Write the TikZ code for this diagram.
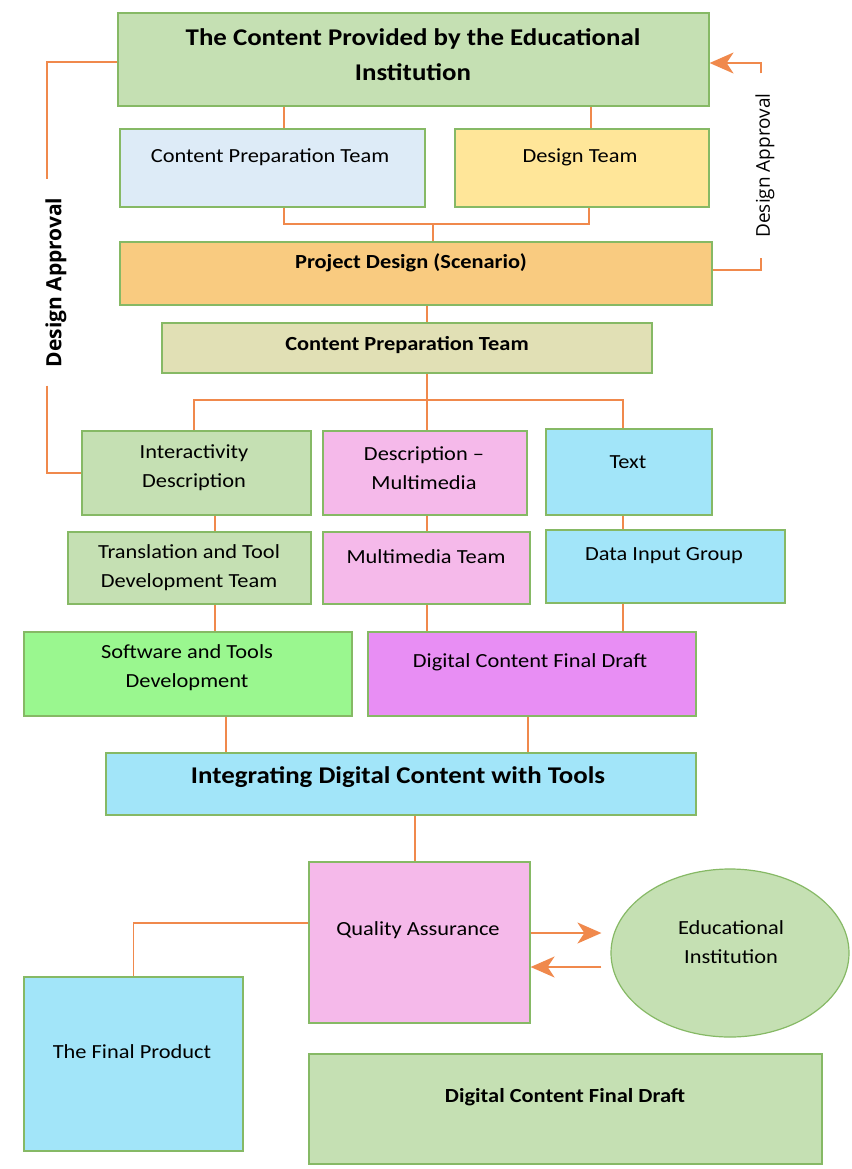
\documentclass[tikz,border=0pt]{standalone}
\usepackage{fontspec}
\setmainfont{Carlito}
\newfontfamily\labfont{Open Sans}
\usetikzlibrary{fit,arrows.meta,shapes.geometric}
\definecolor{cTop}{HTML}{C5E0B3}
\definecolor{cBlue}{HTML}{DDEBF7}
\definecolor{cYel}{HTML}{FFE699}
\definecolor{cOra}{HTML}{F9CB80}
\definecolor{cKha}{HTML}{E1E0B5}
\definecolor{cPink}{HTML}{F5B9EA}
\definecolor{cCyan}{HTML}{A2E5F9}
\definecolor{cLime}{HTML}{9AF78F}
\definecolor{cViol}{HTML}{E88EF4}
\definecolor{bGreen}{HTML}{86B965}
\definecolor{lOra}{HTML}{F0894C}
\begin{document}
\begin{tikzpicture}[x=1pt,y=-1pt,
  box/.style={draw=bGreen,line width=1.2pt,inner sep=0pt},
  conn/.style={draw=lOra,line width=1.7pt},
  arr/.style={conn,-{Stealth[length=24pt,width=21pt,inset=7pt,fill=lOra]}},
  txt/.style={inner sep=0pt,align=center,xscale=1.12,font=\fontsize{20}{29}\selectfont},
  btxt/.style={txt,font=\fontsize{20}{29}\selectfont\bfseries},
  ttl/.style={txt,font=\fontsize{24}{35}\selectfont\bfseries},
  lab/.style={inner ysep=0pt,inner xsep=20pt,font=\labfont\fontsize{19}{22}\selectfont},
  labb/.style={inner ysep=0pt,inner xsep=18pt,font=\labfont\fontsize{21}{24}\selectfont\bfseries}]
\useasboundingbox[fill=white] (0,0) rectangle (851,1169);

% boxes
\node[box,fill=cTop,fit={(118,13)(709,106)}] (top) {};
\node[box,fill=cBlue,fit={(120,129)(425,207)}] (cpt) {};
\node[box,fill=cYel,fit={(455,129)(709,207)}] (dt) {};
\node[box,fill=cOra,fit={(120,242)(712,305)}] (pd) {};
\node[box,fill=cKha,fit={(162,323)(652,373)}] (cpt2) {};
\node[box,fill=cTop,fit={(82,431)(311,515)}] (id) {};
\node[box,fill=cPink,fit={(323,431)(527,515)}] (dm) {};
\node[box,fill=cCyan,fit={(546,429)(712,515)}] (tx) {};
\node[box,fill=cTop,fit={(68,532)(311,604)}] (tt) {};
\node[box,fill=cPink,fit={(323,532)(530,604)}] (mt) {};
\node[box,fill=cCyan,fit={(546,530)(785,603)}] (dig) {};
\node[box,fill=cLime,fit={(24,632)(352,716)}] (std) {};
\node[box,fill=cViol,fit={(368,632)(696,716)}] (dcf) {};
\node[box,fill=cCyan,fit={(106,753)(696,815)}] (idc) {};
\node[box,fill=cPink,fit={(309,862)(530,1023)}] (qa) {};
\node[box,ellipse,fill=cTop,minimum width=238pt,minimum height=168pt] (ei) at (730,953) {};
\node[box,fill=cCyan,fit={(24,977)(243,1151)}] (fp) {};
\node[box,fill=cTop,fit={(309,1054)(822,1164)}] (dcb) {};

% texts
\node[ttl] (topT) at (413,55) {The Content Provided by the Educational\\Institution};
\node[txt] (cptT) at (270,157) {Content Preparation Team};
\node[txt] (dtT) at (580,157) {Design Team};
\node[btxt] (pdT) at (411,263) {Project Design (Scenario)};
\node[btxt] (cpt2T) at (407,345) {Content Preparation Team};
\node[txt] (idT) at (194,468) {Interactivity\\Description};
\node[txt] (dmT) at (424,468) {Description --\\Multimedia};
\node[txt] (txT) at (628,462) {Text};
\node[txt] (ttT) at (189,568) {Translation and Tool\\Development Team};
\node[txt] (mtT) at (426,557) {Multimedia Team};
\node[txt] (digT) at (664,556) {Data Input Group};
\node[txt] (stdT) at (187,668) {Software and Tools\\Development};
\node[txt] (dcfT) at (530,662) {Digital Content Final Draft};
\node[ttl] (idcT) at (398,777) {Integrating Digital Content with Tools};
\node[txt] (qaT) at (418,930) {Quality Assurance};
\node[txt] (eiT) at (731,942) {Educational\\Institution};
\node[txt] (fpT) at (132,1052) {The Final Product};
\node[btxt] (dcbT) at (565,1097) {Digital Content Final Draft};

% side labels
\node[lab,rotate=90] (rlab) at (765,165.5) {Design Approval};
\node[labb,rotate=90] (llab) at (56,282.5) {Design Approval};

% helper coordinates
\coordinate (x284) at (284,0);
\coordinate (x591) at (591,0);
\coordinate (x589) at (589,0);
\coordinate (j1) at (433,224);
\coordinate (x427) at (427,0);
\coordinate (b) at (427,400);
\coordinate (x194) at (194,0);
\coordinate (x623) at (623,0);
\coordinate (x215) at (215,0);
\coordinate (x226) at (226,0);
\coordinate (x528) at (528,0);
\coordinate (x415) at (415,0);
\coordinate (y270) at (0,270);
\coordinate (y63) at (0,63);
\coordinate (y62) at (0,62);
\coordinate (q923) at (0,923);
\coordinate (a933) at (0,933);
\coordinate (a967) at (0,967);
\coordinate (eiL) at ([xshift=-9pt]ei.west);
\coordinate (rlB) at ([xshift=-4pt]rlab.west);
\coordinate (rlT) at ([xshift=-4pt]rlab.east);
\coordinate (llB) at ([xshift=-9pt]llab.west);
\coordinate (llT) at ([xshift=-9pt]llab.east);

% connectors
\draw[conn] (top.south -| x284) -- (cpt.north -| x284);
\draw[conn] (top.south -| x591) -- (dt.north -| x591);
\draw[conn] (cpt.south -| x284) -- (x284 |- j1) -- (x589 |- j1) -- (dt.south -| x589);
\draw[conn] (j1) -- (pd.north -| j1);
\draw[conn] (pd.east |- y270) -| (rlB);
\draw[arr] (rlT) |- (top.east |- y63);
\draw[conn] (top.west |- y62) -| (llT);
\draw[conn] (llB) |- (id.west);
\draw[conn] (pd.south -| x427) -- (cpt2.north -| x427);
\draw[conn] (cpt2.south -| x427) -- (b);
\draw[conn] (id.north -| x194) |- (b) -| (tx.north -| x623);
\draw[conn] (b) -- (dm.north -| b);
\draw[conn] (id.south -| x215) -- (tt.north -| x215);
\draw[conn] (dm.south -| x427) -- (mt.north -| x427);
\draw[conn] (tx.south -| x623) -- (dig.north -| x623);
\draw[conn] (tt.south -| x215) -- (std.north -| x215);
\draw[conn] (mt.south -| x427) -- (dcf.north -| x427);
\draw[conn] (dig.south -| x623) -- (dcf.north -| x623);
\draw[conn] (std.south -| x226) -- (idc.north -| x226);
\draw[conn] (dcf.south -| x528) -- (idc.north -| x528);
\draw[conn] (idc.south -| x415) -- (qa.north -| x415);
\draw[conn] (qa.west |- q923) -| (fp.north);
\draw[arr] (qa.east |- a933) -- (eiL |- a933);
\draw[arr] (eiL |- a967) -- (qa.east |- a967);
\end{tikzpicture}
\end{document}
